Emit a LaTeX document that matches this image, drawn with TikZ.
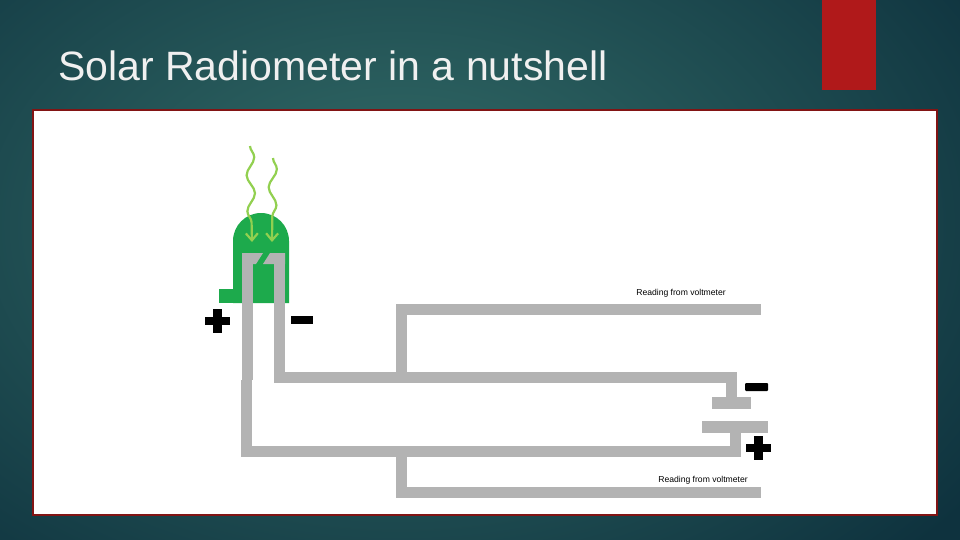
\documentclass[tikz,border=0pt]{standalone}
\usepackage{fontspec}
\setmainfont{Liberation Sans}
\usetikzlibrary{decorations.pathmorphing,arrows.meta}
\definecolor{wire}{HTML}{B3B3B3}
\definecolor{sgreen}{HTML}{1DAA4C}
\definecolor{lgreen}{HTML}{92D050}
\definecolor{redbar}{HTML}{B0191A}
\begin{document}
\begin{tikzpicture}[x=1pt,y=-1pt,
  wireline/.style={wire,line width=11pt},
  ray/.style={lgreen,line width=2.2pt,decorate,decoration={snake,amplitude=4pt,segment length=36pt,post length=14pt},-{Straight Barb[length=7pt,width=12pt]}},
  lbl/.style={font=\fontsize{8.6}{10}\selectfont,inner sep=0pt}]
\useasboundingbox (0,0) rectangle (960,540);
\shade[inner color={rgb,255:red,52;green,110;blue,105},outer color={rgb,255:red,14;green,50;blue,62}] (-300,-250) rectangle (1100,700);
\fill[redbar] (822,0) rectangle (876,90);
\node[anchor=base west,text=white!94!black,font=\fontsize{41}{44}\selectfont,inner sep=0pt] (title) at (58,81) {Solar Radiometer in a nutshell};
\draw[fill=white,draw={rgb,255:red,130;green,20;blue,20},line width=2pt] (33,110) rectangle (937,515);
% sensor
\fill[sgreen] (233,303) -- (233,241) arc[start angle=180,end angle=360,radius=28] -- (289,303) -- cycle;
\fill[sgreen] (219,289) rectangle (234,303);
% leads
\draw[wireline] (247,380) -- (247,258);
\fill[wire] (242,253) -- (263,253) -- (256,264) -- (242,264) -- cycle;
\draw[wireline] (279,258) -- (279,377) -- (731,377) -- (731,397);
\fill[wire] (285,253) -- (270,253) -- (263,264) -- (285,264) -- cycle;
\fill[wire] (712,397) rectangle (751,409);
\fill[wire] (702,421) rectangle (768,433);
\draw[wireline] (735,433) -- (735,451) -- (246,451) -- (246,380);
% reading brackets
\draw[wireline] (401,372) -- (401,309) -- (761,309);
\draw[wireline] (401,457) -- (401,492) -- (761,492);
\node[lbl] (r1) at (681,293) {Reading from voltmeter};
\node[lbl] (r2) at (703,480) {Reading from voltmeter};
% signs
\fill[black] (205,317) rectangle (230,325);
\fill[black] (213,309) rectangle (222,333);
\fill[black] (291,316) rectangle (313,324);
\fill[black,rounded corners=1pt] (745,383) rectangle (768,391);
\fill[black] (746,444) rectangle (771,452);
\fill[black] (754,436) rectangle (763,460);
% rays
\draw[ray] (250,146) -- (252,242);
\draw[ray] (273,158) -- (272,242);
\end{tikzpicture}
\end{document}
